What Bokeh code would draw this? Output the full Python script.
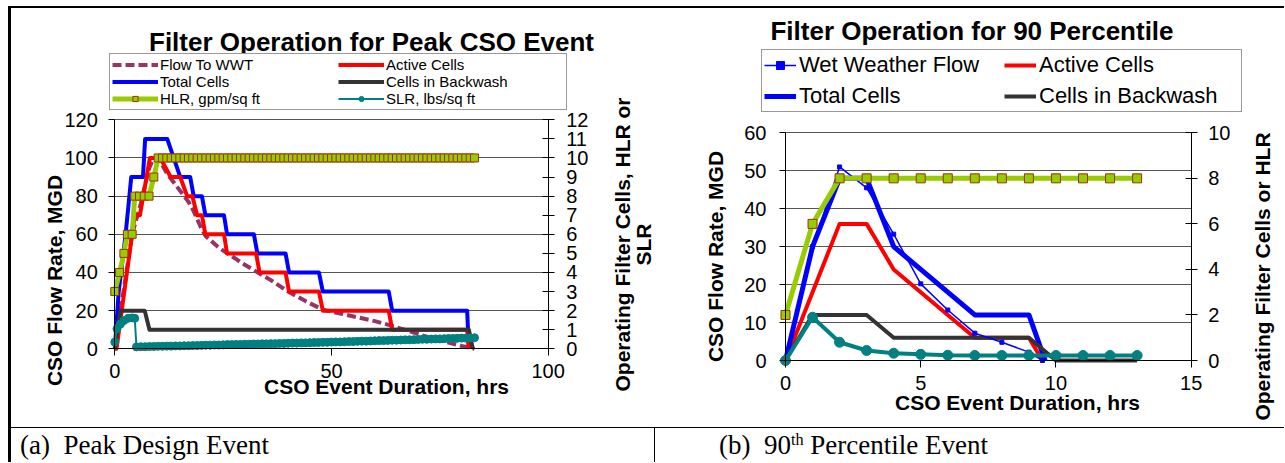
import math
from bokeh.plotting import figure
from bokeh.models import Range1d, LinearAxis, FixedTicker, Legend, LegendItem, Label, Div
from bokeh.layouts import row, column
from bokeh.embed import file_html
from bokeh.resources import INLINE

# ================= DATA: (a) Peak Design Event =================
a_x_ticks = [0, 50, 100]
a_flow_ticks = [0, 20, 40, 60, 80, 100, 120]
a_cell_ticks = [0, 1, 2, 3, 4, 5, 6, 7, 8, 9, 10, 11, 12]

a_flow_hours = [0, 1, 2, 3, 4, 5, 6, 7, 8, 9, 10, 11, 12, 13, 14, 15, 16, 17, 18, 19, 20,
                21, 22, 24, 26, 28, 30, 33, 36, 40, 44, 48, 52, 56, 60, 64, 68, 72, 76, 80, 83]
a_flow_mgd = [0, 15, 30, 45, 60, 68, 76, 86, 95, 100, 100, 96, 92, 89, 86, 83, 80, 77, 73, 68, 63,
              59, 57, 53, 50, 47, 44, 40, 36, 30, 25, 20.5, 18.5, 16.5, 14.5, 12, 9.2, 6.3, 3.8, 1.5, 0]

a_total_hours = [0, 0.9, 2.5, 3.8, 6.5, 7.0, 12.1, 15.1, 17.4, 18.2, 20.1, 20.9, 25.2, 25.9,
                 32.1, 32.9, 39.4, 40.2, 47.1, 48.0, 63.2, 64.0, 81.3, 81.7]
a_total_cells = [0, 3, 6, 9, 9, 11, 11, 9, 9, 8, 8, 7, 7, 6, 6, 5, 5, 4, 4, 3, 3, 2, 2, 0]

a_active_hours = [0, 0.4, 4.6, 5.8, 8.1, 10.5, 12.9, 15.1, 16.7, 17.9, 19.0, 20.1, 20.9, 25.2,
                  25.9, 32.6, 33.4, 39.4, 40.2, 47.1, 48.0, 63.2, 64.0, 81.3, 81.7]
a_active_cells = [0, 0, 7, 7, 10, 10, 9, 9, 8, 8, 7, 7, 6, 6, 5, 5, 4, 4, 3, 3, 2, 2, 1, 1, 0]

a_backwash_hours = [0, 1.3, 6.9, 8.0, 81.7, 82.6]
a_backwash_cells = [0, 2, 2, 1, 1, 0]

a_hlr_hours = [0, 1.1, 2.1, 2.9, 4.0, 4.6, 5.7, 6.8, 7.9, 9.0] + list(range(10, 84))
a_hlr = [3, 4, 5, 6, 6, 8, 8, 8, 8, 9,
         10, 10, 10, 10, 10, 10, 10, 10, 10, 10,
         10, 10, 10, 10, 10, 10, 10, 10, 10, 10,
         10, 10, 10, 10, 10, 10, 10, 10, 10, 10,
         10, 10, 10, 10, 10, 10, 10, 10, 10, 10,
         10, 10, 10, 10, 10, 10, 10, 10, 10, 10,
         10, 10, 10, 10, 10, 10, 10, 10, 10, 10,
         10, 10, 10, 10, 10, 10, 10, 10, 10, 10,
         10, 10, 10, 10]

a_slr_hours = [0, 0.5, 1.3, 2.1, 3.1, 4.0, 4.6] + list(range(5, 84))
a_slr = [0.35, 1.05, 1.3, 1.48, 1.6, 1.62, 1.6,
         0.10, 0.11, 0.11, 0.12, 0.12, 0.13, 0.13, 0.14, 0.14, 0.15,
         0.15, 0.16, 0.16, 0.17, 0.17, 0.18, 0.19, 0.19, 0.20, 0.20,
         0.21, 0.22, 0.22, 0.23, 0.23, 0.24, 0.24, 0.25, 0.25, 0.26,
         0.26, 0.27, 0.27, 0.28, 0.28, 0.29, 0.30, 0.30, 0.31, 0.31,
         0.32, 0.33, 0.33, 0.34, 0.34, 0.35, 0.36, 0.36, 0.37, 0.38,
         0.38, 0.39, 0.40, 0.40, 0.41, 0.42, 0.43, 0.43, 0.44, 0.45,
         0.45, 0.46, 0.47, 0.47, 0.48, 0.49, 0.50, 0.50, 0.51, 0.52,
         0.52, 0.53, 0.54, 0.54, 0.55, 0.56, 0.56, 0.57, 0.58]

# ================= DATA: (b) 90th Percentile Event =================
b_x_ticks = [0, 5, 10, 15]
b_flow_ticks = [0, 10, 20, 30, 40, 50, 60]
b_cell_ticks = [0, 2, 4, 6, 8, 10]

b_wet_hours = [0, 1, 2, 3, 4, 5, 6, 7, 8, 9, 9.5]
b_wet_mgd = [0, 30, 51, 45.5, 33.3, 20.2, 13.3, 7.2, 4.8, 2.2, 0]

b_total_hours = [0, 1, 2, 3, 4, 5, 6, 7, 8, 9, 9.6]
b_total_cells = [0, 5, 8, 8, 5, 4, 3, 2, 2, 2, 0]

b_active_hours = [0, 1, 2, 3, 4, 5, 6, 7, 8, 9, 9.5]
b_active_cells = [0, 3, 6, 6, 4, 3, 2, 1, 1, 1, 0]

b_backwash_hours = [0, 1, 2, 3, 4, 5, 6, 7, 8, 9, 10, 11, 12, 13]
b_backwash_cells = [0, 2, 2, 2, 1, 1, 1, 1, 1, 1, 0, 0, 0, 0]

b_hlr_hours = [0, 1, 2, 3, 4, 5, 6, 7, 8, 9, 10, 11, 12, 13]
b_hlr = [2, 6, 8, 8, 8, 8, 8, 8, 8, 8, 8, 8, 8, 8]

b_slr_hours = [0, 1, 2, 3, 4, 5, 6, 7, 8, 9, 10, 11, 12, 13]
b_slr = [0, 1.9, 0.8, 0.44, 0.32, 0.27, 0.23, 0.22, 0.22, 0.22, 0.22, 0.22, 0.22, 0.22]

# ================= STYLE =================
FONT = "Liberation Sans"
C_FLOW = "#993366"
C_RED = "#FF0000"
C_BLUE = "#0000FF"
C_DARK = "#333333"
C_GREEN = "#99CC00"
C_MARK = "#993300"
C_TEAL = "#008080"
C_GRID = "#555555"


class Chart:
    """A figure whose frame is the whole canvas; the plot area is placed by pixel layout."""

    def __init__(self, org, W, H, xpx, xr, ypx, yr, cells_max):
        self.org, self.W, self.H = org, W, H
        (x0p, x1p), (xmin, xmax) = xpx, xr
        (y0p, y1p), (ymin, ymax) = ypx, yr
        self.sx = (x1p - x0p) / (xmax - xmin)
        self.sy = (y0p - y1p) / (ymax - ymin)
        self.x0p, self.y0p, self.xmin, self.ymin = x0p, y0p, xmin, ymin
        xs = xmin - (x0p - org[0]) / self.sx
        xe = xmax + (org[0] + W - x1p) / self.sx
        ys = ymin - (org[1] + H - y0p) / self.sy
        ye = ymax + (y1p - org[1]) / self.sy
        self.p = figure(width=W, height=H, x_range=Range1d(xs, xe), y_range=Range1d(ys, ye),
                        x_axis_location=None, y_axis_location=None, min_border=0,
                        output_backend="svg", toolbar_location=None)
        k = cells_max / ymax
        self.p.extra_y_ranges = {"cells": Range1d(ys * k, ye * k)}
        self.p.grid.visible = False
        self.p.outline_line_color = None
        self.p.background_fill_color = "white"
        self.p.border_fill_color = "white"
        self.xr, self.yr, self.cells_max = xr, yr, cells_max
        self.plot_w = x1p - x0p

    def dx(self, px):
        return self.xmin + (px - self.x0p) / self.sx

    def dy(self, py):
        return self.ymin + (self.y0p - py) / self.sy

    def loc(self, left_px, bottom_px):
        return (int(round(left_px - self.org[0])), int(round(self.org[1] + self.H - bottom_px)))

    def axes(self, xticks, yticks, cticks, lstand, rstand):
        p = self.p
        xa = LinearAxis(fixed_location=self.yr[0], bounds=self.xr, ticker=FixedTicker(ticks=xticks))
        ya = LinearAxis(fixed_location=self.xr[0], bounds=self.yr, ticker=FixedTicker(ticks=yticks))
        ra = LinearAxis(fixed_location=self.xr[1], bounds=(0, self.cells_max), y_range_name="cells",
                        ticker=FixedTicker(ticks=cticks))
        ga = LinearAxis(fixed_location=self.xr[0], bounds=self.yr, ticker=FixedTicker(ticks=yticks),
                        level="underlay")
        for ax, t_in, t_out, st in ((xa, 0, 7, 8), (ya, 0, 6, lstand), (ra, 6, 6, rstand)):
            ax.axis_line_color = "black"
            ax.major_tick_line_color = "black"
            ax.major_tick_in = t_in
            ax.major_tick_out = t_out
            ax.minor_tick_line_color = None
            ax.major_label_text_font = FONT
            ax.major_label_text_font_size = "20px"
            ax.major_label_text_color = "black"
            ax.major_label_standoff = st
        ga.axis_line_color = None
        ga.minor_tick_line_color = None
        ga.major_tick_line_color = C_GRID
        ga.major_tick_in = int(round(self.plot_w))
        ga.major_tick_out = 0
        ga.major_label_text_color = None
        p.add_layout(ga, "left")
        p.add_layout(xa, "below")
        p.add_layout(ya, "left")
        p.add_layout(ra, "right")

    def text(self, px, py, text, size, angle=0.0):
        self.p.add_layout(Label(x=self.dx(px), y=self.dy(py), text=text, angle=angle,
                                text_font=FONT, text_font_size=size, text_font_style="bold",
                                text_align="center", text_baseline="middle", text_color="black"))


# ----------------- chart (a) -----------------
A = Chart(org=(11, 8), W=644, H=419, xpx=(114.3, 547.7), xr=(0, 100),
          ypx=(348.3, 119.3), yr=(0, 120), cells_max=12)
A.axes(a_x_ticks, a_flow_ticks, a_cell_ticks, 11, 12)
p1 = A.p

r_flow = p1.line(a_flow_hours, a_flow_mgd, line_color=C_FLOW, line_width=4, line_dash="9 4")
r_tot = p1.line(a_total_hours, a_total_cells, y_range_name="cells", line_color=C_BLUE,
                line_width=4, line_join="round")
r_act = p1.line(a_active_hours, a_active_cells, y_range_name="cells", line_color=C_RED,
                line_width=4, line_join="round")
r_bw = p1.line(a_backwash_hours, a_backwash_cells, y_range_name="cells", line_color=C_DARK,
               line_width=4, line_join="round")
r_hlr_l = p1.line(a_hlr_hours, a_hlr, y_range_name="cells", line_color=C_GREEN, line_width=5,
                  line_join="round")
r_hlr_m = p1.scatter(a_hlr_hours, a_hlr, y_range_name="cells", marker="square", size=8,
                     fill_color=C_GREEN, line_color=C_MARK, line_width=1)
r_slr_l = p1.line(a_slr_hours, a_slr, y_range_name="cells", line_color=C_TEAL, line_width=2)
r_slr_m = p1.scatter(a_slr_hours, a_slr, y_range_name="cells", marker="circle", size=8,
                     fill_color=C_TEAL, line_color=C_TEAL)

leg1 = Legend(items=[LegendItem(label="Flow To WWT", renderers=[r_flow]),
                     LegendItem(label="Total Cells", renderers=[r_tot]),
                     LegendItem(label="HLR, gpm/sq ft", renderers=[r_hlr_l, r_hlr_m]),
                     LegendItem(label="Active Cells", renderers=[r_act]),
                     LegendItem(label="Cells in Backwash", renderers=[r_bw]),
                     LegendItem(label="SLR, lbs/sq ft", renderers=[r_slr_l, r_slr_m])],
              location=A.loc(109, 110), orientation="vertical", ncols=2,
              label_text_font=FONT, label_text_font_size="15px", label_text_color="black",
              glyph_width=46, glyph_height=13, label_standoff=2, label_width=178,
              label_height=13, spacing=0, padding=2, margin=0,
              border_line_color="#333333", border_line_width=1,
              background_fill_color="white", background_fill_alpha=1.0)
p1.add_layout(leg1)

A.text(371, 41, "Filter Operation for Peak CSO Event", "26px")
A.text(54, 280, "CSO Flow Rate, MGD", "21px", angle=math.pi / 2)
A.text(386, 386, "CSO Event Duration, hrs", "21px")
A.text(622, 244, "Operating Filter Cells, HLR or", "21px", angle=math.pi / 2)
A.text(643, 244, "SLR", "21px", angle=math.pi / 2)

# ----------------- chart (b) -----------------
B = Chart(org=(655, 8), W=629, H=419, xpx=(785, 1190.7), xr=(0, 15),
          ypx=(360, 132.3), yr=(0, 60), cells_max=10)
B.axes(b_x_ticks, b_flow_ticks, b_cell_ticks, 13, 11)
p2 = B.p

q_act = p2.line(b_active_hours, b_active_cells, y_range_name="cells", line_color=C_RED,
                line_width=4, line_join="round")
q_tot = p2.line(b_total_hours, b_total_cells, y_range_name="cells", line_color=C_BLUE,
                line_width=5, line_join="round")
q_bw = p2.line(b_backwash_hours, b_backwash_cells, y_range_name="cells", line_color=C_DARK,
               line_width=4, line_join="round")
q_wet_l = p2.line(b_wet_hours, b_wet_mgd, line_color=C_BLUE, line_width=1.5)
q_wet_m = p2.scatter(b_wet_hours, b_wet_mgd, marker="square", size=4, fill_color=C_BLUE,
                     line_color=C_BLUE)
q_hlr_l = p2.line(b_hlr_hours, b_hlr, y_range_name="cells", line_color=C_GREEN, line_width=5,
                  line_join="round")
q_hlr_m = p2.scatter(b_hlr_hours, b_hlr, y_range_name="cells", marker="square", size=9,
                     fill_color=C_GREEN, line_color=C_MARK, line_width=1)
q_slr_l = p2.line(b_slr_hours, b_slr, y_range_name="cells", line_color=C_TEAL, line_width=4,
                  line_join="round")
q_slr_m = p2.scatter(b_slr_hours, b_slr, y_range_name="cells", marker="circle", size=10,
                     fill_color=C_TEAL, line_color=C_TEAL)

leg2 = Legend(items=[LegendItem(label="Wet Weather Flow", renderers=[q_wet_l, q_wet_m]),
                     LegendItem(label="Total Cells", renderers=[q_tot]),
                     LegendItem(label="Active Cells", renderers=[q_act]),
                     LegendItem(label="Cells in Backwash", renderers=[q_bw])],
              location=B.loc(761, 112), orientation="vertical", ncols=2,
              label_text_font=FONT, label_text_font_size="22px", label_text_color="black",
              glyph_width=32, glyph_height=20, label_standoff=3, label_width=200,
              label_height=20, spacing=5, padding=2, margin=0,
              border_line_color="#333333", border_line_width=1,
              background_fill_color="white", background_fill_alpha=1.0)
p2.add_layout(leg2)

B.text(971.5, 30, "Filter Operation for 90 Percentile", "26px")
B.text(715, 256, "CSO Flow Rate, MGD", "21px", angle=math.pi / 2)
B.text(1017, 402, "CSO Event Duration, hrs", "21px")
B.text(1262, 276, "Operating Filter Cells or HLR", "21px", angle=math.pi / 2)

# ----------------- table frame and captions -----------------
cap_style = "font-family: 'Liberation Serif', 'Times New Roman', serif; font-size: 27px; " \
            "line-height: 34px; white-space: nowrap; color: black;"
sup_style = "position: relative; top: -0.55em; font-size: 60%; line-height: 0;"
capA = Div(text='<div style="%s padding-left: 9px;">(a)&nbsp; Peak Design Event</div>' % cap_style,
           width=644, height=35, margin=0,
           styles={"border-top": "1px solid black", "border-right": "1px solid black",
                   "box-sizing": "border-box"})
capB = Div(text='<div style="%s padding-left: 64px;">(b)&nbsp; 90<span style="%s">th</span> '
                'Percentile Event</div>' % (cap_style, sup_style),
           width=629, height=35, margin=0,
           styles={"border-top": "1px solid black", "box-sizing": "border-box"})
top_gap = Div(width=1284, height=6, margin=0)
left_gap = Div(width=8, height=456, margin=0)
left_bar = Div(width=3, height=456, margin=0, styles={"background-color": "black"})
top_bar = Div(width=1273, height=2, margin=0, styles={"background-color": "black"})

layout = column(top_gap, row(left_gap, left_bar, column(top_bar, row(p1, p2), row(capA, capB))))

open("out.html", "w").write(file_html(layout, INLINE))
